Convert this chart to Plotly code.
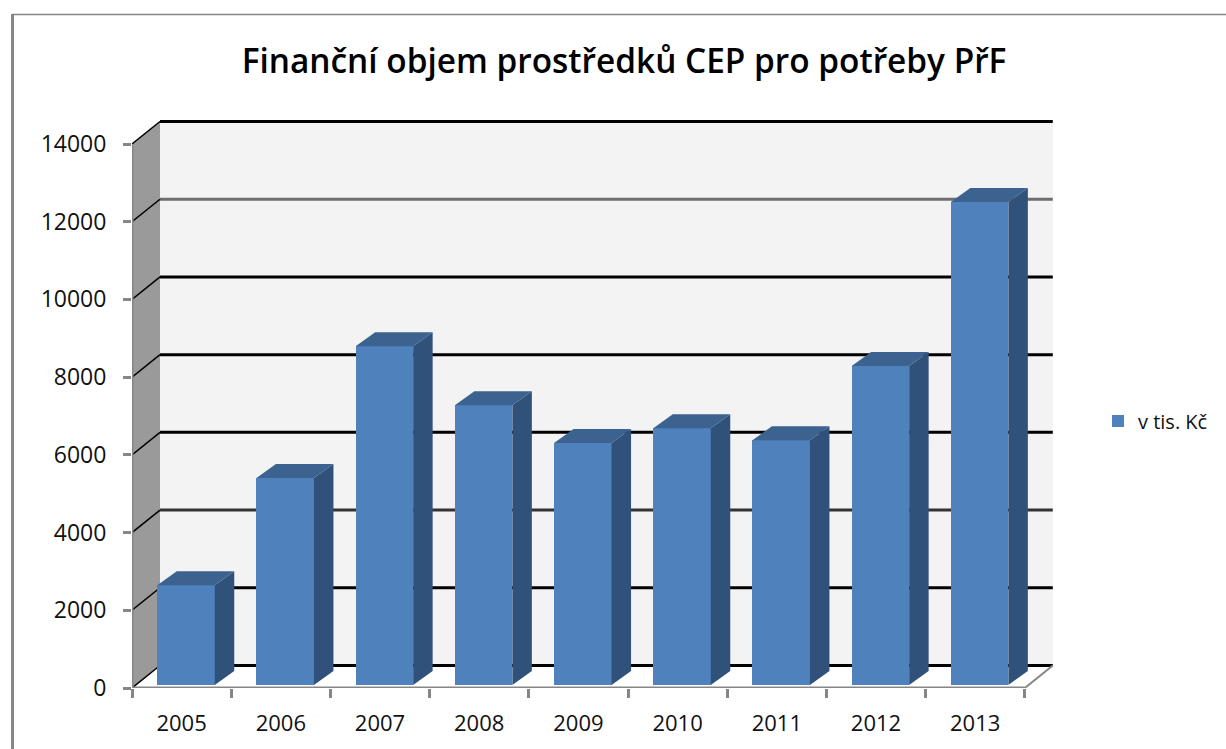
import plotly.graph_objects as go

# ---- data ----
years = ["2005", "2006", "2007", "2008", "2009", "2010", "2011", "2012", "2013"]
values = [2570, 5330, 8720, 7200, 6230, 6610, 6300, 8210, 12430]
y_ticks = [0, 2000, 4000, 6000, 8000, 10000, 12000, 14000]
grid_colors = ["#000000", "#000000", "#333333", "#000000", "#000000", "#000000", "#6e6e6e", "#000000"]
series_name = "v tis. Kč"
title_text = "Finanční objem prostředků CEP pro potřeby PřF"

# ---- geometry (pixels of the figure) ----
W, H = 1226, 749
L, R, T, B = 132, 1058, 116, 688
px_x = 99.2            # pixels per category
px_y = 544 / 14000     # pixels per value unit
xmin = -0.5
xmax = xmin + (R - L) / px_x
ymax = (B - T) / px_y

wall_dx = 28 / px_x
wall_dy = 22.5 / px_y
bar_dx = 19.5 / px_x
bar_dy = 14 / px_y
lift_x = 4.4 / px_x
lift_y = 3 / px_y
bar_w = 57.5 / px_x

AXIS = "#868686"
FRONT, SIDE, TOP = "#4f81bd", "#30527a", "#3c6390"
FONT = "Open Sans"

xs = list(range(len(years)))
left_x = xmin
right_x = xmin + len(years)

fig = go.Figure()

# front faces
fig.add_trace(go.Bar(
    x=[i + lift_x for i in xs], y=values, base=lift_y, width=bar_w,
    marker=dict(color=FRONT, line=dict(width=0)),
    name=series_name, showlegend=True, hoverinfo="skip",
))

# side and top faces derived from the values
side_x, side_y, top_x, top_y = [], [], [], []
for i, v in zip(xs, values):
    x0 = i + lift_x - bar_w / 2
    x1 = i + lift_x + bar_w / 2
    b = lift_y
    t = lift_y + v
    side_x += [x1, x1 + bar_dx, x1 + bar_dx, x1, x1, None]
    side_y += [b, b + bar_dy, t + bar_dy, t, b, None]
    top_x += [x0, x0 + bar_dx, x1 + bar_dx, x1, x0, None]
    top_y += [t, t + bar_dy, t + bar_dy, t, t, None]
fig.add_trace(go.Scatter(x=side_x, y=side_y, mode="lines", fill="toself", fillcolor=SIDE,
                         line=dict(width=0), showlegend=False, hoverinfo="skip"))
fig.add_trace(go.Scatter(x=top_x, y=top_y, mode="lines", fill="toself", fillcolor=TOP,
                         line=dict(width=0), showlegend=False, hoverinfo="skip"))

# front axis lines
fig.add_trace(go.Scatter(x=[left_x, left_x, right_x], y=[y_ticks[-1], 0, 0], mode="lines",
                         line=dict(color=AXIS, width=3), cliponaxis=False,
                         showlegend=False, hoverinfo="skip"))

shapes = []
# back wall
shapes.append(dict(type="rect", xref="x", yref="y", layer="below",
                   x0=left_x + wall_dx, x1=right_x + wall_dx,
                   y0=wall_dy, y1=y_ticks[-1] + wall_dy,
                   fillcolor="#f3f3f3", line=dict(width=0)))
# side wall
shapes.append(dict(type="path", xref="x", yref="y", layer="below",
                   path=f"M {left_x} 0 L {left_x + wall_dx} {wall_dy} "
                        f"L {left_x + wall_dx} {y_ticks[-1] + wall_dy} L {left_x} {y_ticks[-1]} Z",
                   fillcolor="#9a9a9a", line=dict(width=0)))
# grid lines on both walls
for v, c in zip(y_ticks, grid_colors):
    shapes.append(dict(type="line", xref="x", yref="y", layer="below",
                       x0=left_x + wall_dx, x1=right_x + wall_dx,
                       y0=v + wall_dy, y1=v + wall_dy,
                       line=dict(color=c, width=3)))
    shapes.append(dict(type="line", xref="x", yref="y", layer="below",
                       x0=left_x, x1=left_x + wall_dx,
                       y0=v, y1=v + wall_dy,
                       line=dict(color="#000000", width=1.5)))
# floor right edge
shapes.append(dict(type="line", xref="x", yref="y", layer="below",
                   x0=right_x, x1=right_x + wall_dx, y0=0, y1=wall_dy,
                   line=dict(color=AXIS, width=2)))
# outer chart frame (top and left only are on the page)
def fx(p): return (p - L) / (R - L)
def fy(p): return (B - p) / (B - T)
shapes.append(dict(type="line", xref="paper", yref="paper", layer="above",
                   x0=fx(12), x1=fx(W), y0=fy(14.5), y1=fy(14.5),
                   line=dict(color=AXIS, width=1.5)))
shapes.append(dict(type="line", xref="paper", yref="paper", layer="above",
                   x0=fx(12.5), x1=fx(12.5), y0=fy(14), y1=fy(H),
                   line=dict(color=AXIS, width=3)))

fig.update_layout(
    width=W, height=H, autosize=False,
    margin=dict(l=L, r=W - R, t=T, b=H - B, pad=0),
    paper_bgcolor="white", plot_bgcolor="white",
    font=dict(family=FONT, color="#111111", size=21),
    title=dict(text=title_text, xref="container", yref="container",
               x=624 / W, y=1 - 61 / H, xanchor="center", yanchor="middle",
               font=dict(family=FONT, size=33.4, color="#000000", weight=600)),
    barmode="overlay",
    bargap=0,
    shapes=shapes,
    legend=dict(x=fx(1098), y=fy(421), xanchor="left", yanchor="middle",
                bgcolor="rgba(0,0,0,0)", itemwidth=30, font=dict(size=20)),
    xaxis=dict(range=[xmin, xmax], tickmode="array", tickvals=xs, ticktext=years,
               ticks="", showgrid=False, zeroline=False, showline=False,
               ticklabelstandoff=20,
               minor=dict(ticks="outside", tickmode="array",
                          tickvals=[i - 0.5 for i in range(len(years) + 1)],
                          ticklen=9, tickwidth=2.5, tickcolor=AXIS, showgrid=False),
               tickfont=dict(size=22)),
    yaxis=dict(range=[0, ymax], tickmode="array", tickvals=y_ticks, tickformat="d",
               ticks="outside", ticklen=8, tickwidth=2.5, tickcolor=AXIS,
               showgrid=False, zeroline=False, showline=False,
               ticklabelstandoff=12, tickfont=dict(size=23)),
)

fig.write_html("out.html", config=dict(displayModeBar=False),
               post_script="document.body.style.margin='0';")
